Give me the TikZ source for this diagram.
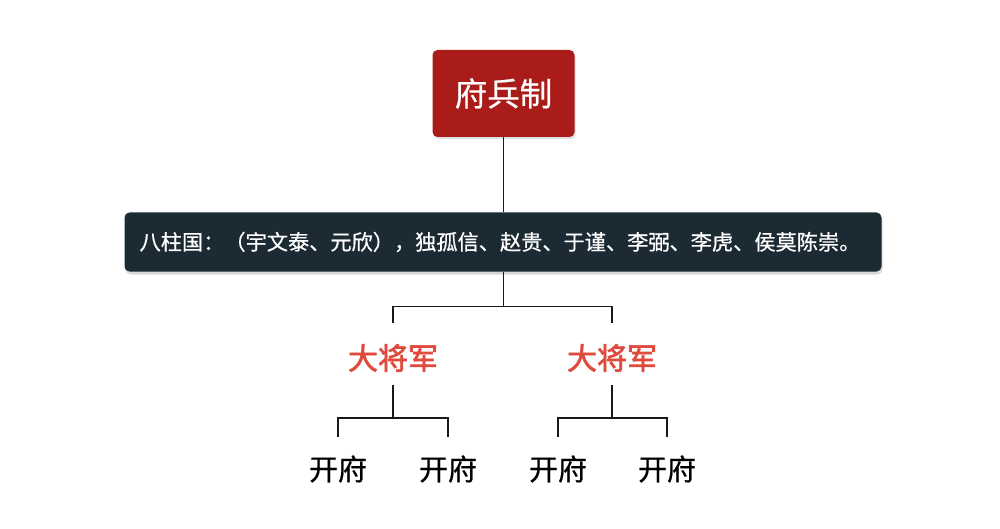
\documentclass[tikz,border=0pt]{standalone}
\usepackage{fontspec}
\setmainfont{Noto Sans CJK SC}[FakeBold=0.6]
\newfontfamily\genfont{Noto Sans CJK SC}[FakeBold=2]
\usetikzlibrary{shadows}
\definecolor{boxred}{HTML}{A91C19}
\definecolor{bardark}{HTML}{1B2A33}
\definecolor{genred}{HTML}{E04A3C}
\tikzset{
  topbox/.style={fill=boxred, rounded corners=5pt, minimum width=142pt, minimum height=87pt,
    inner sep=0pt, text=white, font=\fontsize{32.5}{36}\selectfont,
    drop shadow={opacity=0.25, shadow xshift=1pt, shadow yshift=-2pt}},
  barbox/.style={fill=bardark, rounded corners=5pt, minimum width=757pt, minimum height=59pt,
    inner sep=0pt, text=white, font=\fontsize{21.2}{24}\selectfont,
    drop shadow={opacity=0.3, shadow xshift=1pt, shadow yshift=-3pt}},
  gen/.style={text=genred, inner sep=0pt, minimum height=70pt, font=\genfont\fontsize{30}{34}\selectfont},
  fu/.style={text=black, inner sep=0pt, minimum height=64pt, font=\fontsize{29}{32}\selectfont},
  conn/.style={draw=black!90, line width=1.5pt}
}
\begin{document}
\begin{tikzpicture}[x=1pt,y=-1pt]
\useasboundingbox[fill=white] (0,0) rectangle (1000,529);
\node[topbox] (top) at (503.5,93.5) {府兵制};
\node[barbox] (bar) at (503,242) {\hspace*{-6pt}八柱国：（宇文泰、元欣），独孤信、赵贵、于谨、李弼、李虎、侯莫陈崇。};
\node[gen] (g1) at (393,358) {大将军};
\node[gen] (g2) at (612,358) {大将军};
\node[fu] (f1) at (338,469) {开府};
\node[fu] (f2) at (448,469) {开府};
\node[fu] (f3) at (558,469) {开府};
\node[fu] (f4) at (667,469) {开府};
\draw[conn] (top.south) -- (top.south |- bar.north);
\draw[conn] (top.south |- bar.south) -- ++(0,35) coordinate (j0);
\draw[conn] (g1.north) |- (j0) -| (g2.north);
\draw[conn] ([yshift=8pt]g1.south) -- ++(0,33) coordinate (j1);
\draw[conn] (f1.north) |- (j1) -| (f2.north);
\draw[conn] ([yshift=8pt]g2.south) -- ++(0,33) coordinate (j2);
\draw[conn] (f3.north) |- (j2) -| (f4.north);
\end{tikzpicture}
\end{document}
